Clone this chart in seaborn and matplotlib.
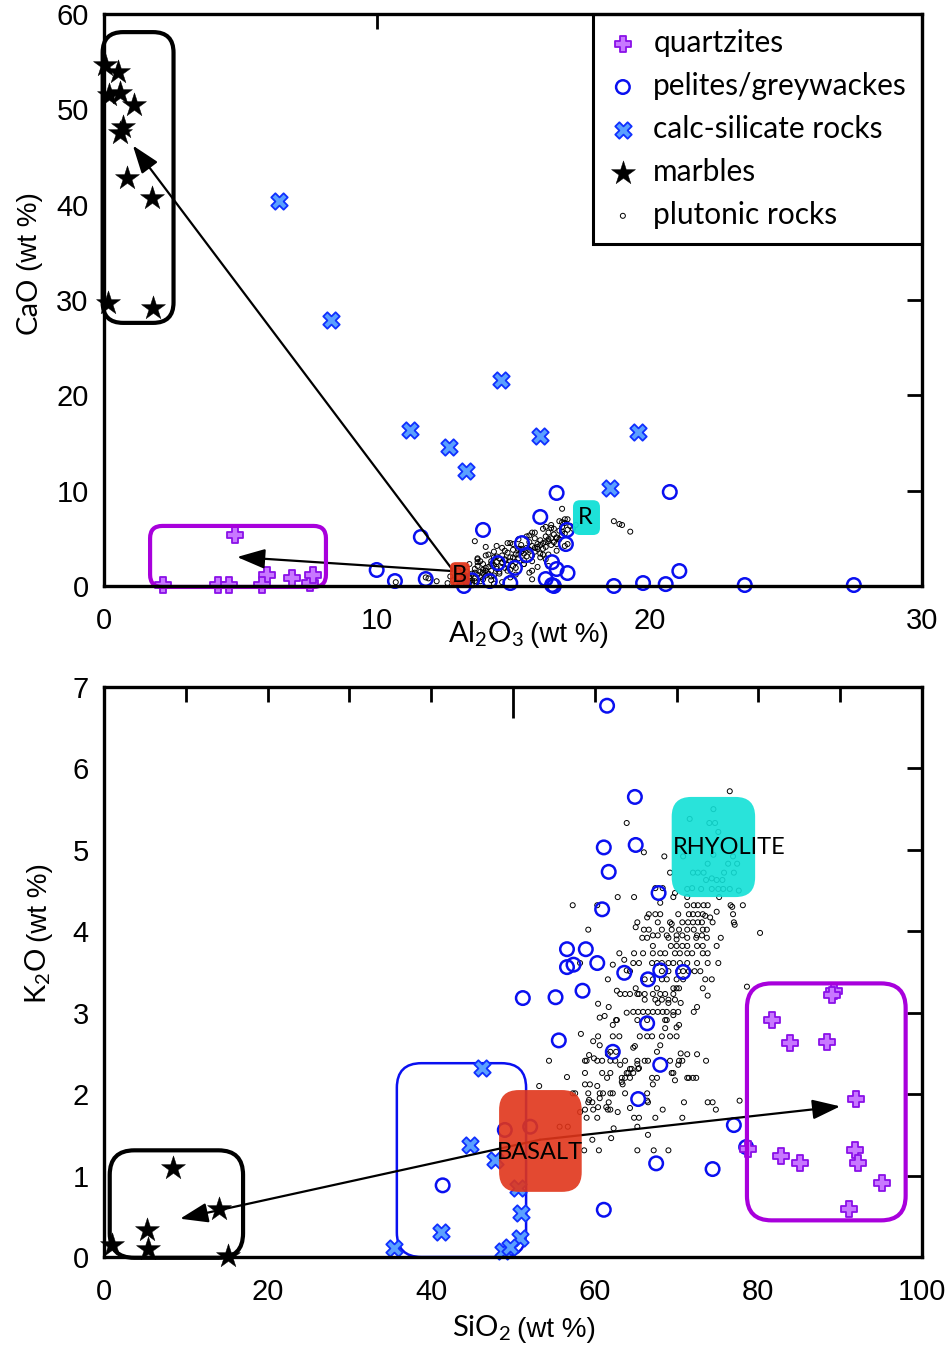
import matplotlib
matplotlib.use("Agg")
import matplotlib.pyplot as plt
import seaborn as sns
import pandas as pd
from matplotlib.patches import FancyBboxPatch

sns.set_style("white")
plt.rcParams['font.family'] = ['Liberation Sans Narrow', 'Liberation Sans', 'DejaVu Sans']
plt.rcParams['mathtext.fontset'] = 'custom'
plt.rcParams['mathtext.rm'] = 'Lato'
plt.rcParams['mathtext.it'] = 'Lato:italic'
plt.rcParams['text.color'] = 'black'
plt.rcParams['axes.labelcolor'] = 'black'
plt.rcParams['xtick.color'] = 'black'
plt.rcParams['ytick.color'] = 'black'

LBL = ['Lato', 'DejaVu Sans']
NARROW = ['Liberation Sans Narrow', 'Liberation Sans', 'DejaVu Sans']

# ---------------- TOP PANEL DATA (Al2O3 vs CaO) ----------------
marb_al = [0.04, 0.5, 0.2, 0.6, 1.1, 0.7, 0.6, 0.85, 1.75, 0.15, 1.8]
marb_ca = [54.7, 53.9, 51.5, 51.7, 50.5, 48.1, 47.5, 42.8, 40.7, 29.7, 29.2]

qtz_al = [4.8, 2.16, 4.18, 4.6, 5.98, 5.8, 6.9, 7.55, 7.66]
qtz_ca = [5.35, 0.1, 0.1, 0.1, 1.15, 0.1, 0.8, 0.3, 1.15]

calc_al = [6.42, 8.32, 14.56, 11.22, 12.65, 13.27, 15.99, 19.58, 18.55]
calc_ca = [40.4, 27.9, 21.6, 16.4, 14.6, 12.07, 15.7, 16.2, 10.3]

pel_al = [16.6, 20.75, 16.0, 13.9, 11.62, 16.98, 16.94, 15.33, 15.5, 14.45, 15.07, 16.43,
          16.6, 17.0, 10.0, 10.67, 11.8, 14.15, 14.9, 16.2, 16.43, 16.5, 13.2, 13.5,
          18.7, 19.77, 20.6, 21.1, 23.5, 27.5]
pel_ca = [9.76, 9.86, 7.24, 5.88, 5.14, 5.88, 4.4, 4.5, 3.25, 2.4, 1.9, 2.5,
          1.78, 1.36, 1.68, 0.52, 0.73, 0.52, 0.31, 0.73, 0.1, 0.0, 0.0, 0.6,
          0.0, 0.31, 0.2, 1.57, 0.1, 0.1]

plut_al = [12.9, 13.0, 13.1, 13.2, 13.3, 13.3, 13.4, 13.4, 13.5, 13.5,
           13.6, 13.6, 13.7, 13.7, 13.8, 13.8, 13.9, 13.9, 14.0, 14.0,
           14.1, 14.1, 14.2, 14.2, 14.3, 14.3, 14.4, 14.4, 14.5, 14.5,
           14.6, 14.6, 14.7, 14.7, 14.8, 14.8, 14.9, 14.9, 15.0, 15.0,
           15.1, 15.1, 15.2, 15.2, 15.3, 15.3, 15.4, 15.4, 15.5, 15.5,
           15.6, 15.6, 15.7, 15.7, 15.8, 15.8, 15.9, 15.9, 16.0, 16.0,
           16.1, 16.1, 16.2, 16.2, 16.3, 16.3, 16.4, 16.4, 16.5, 16.5,
           16.6, 16.6, 16.7, 16.7, 16.8, 16.8, 16.9, 16.9, 17.0, 17.1,
           13.2, 13.6, 13.9, 14.2, 14.4, 14.7, 15.0, 15.2, 15.5, 15.8,
           16.0, 16.3, 16.6, 16.8, 17.2, 17.3, 13.4, 14.0, 14.6, 15.3,
           11.8, 12.2, 11.9, 10.7, 13.6, 14.0, 14.8, 14.4, 15.7, 16.2,
           16.4, 13.7, 13.7, 16.8, 16.9, 18.7, 18.9, 19.0, 19.3, 15.7,
           15.7, 14.6, 12.6, 13.0, 13.3, 13.8, 14.3, 14.9, 15.4, 16.1,
           13.1, 13.4, 13.7, 14.0, 14.3, 14.6, 14.9, 15.2, 15.5, 15.8,
           16.1, 16.4, 16.7, 17.0, 13.3, 13.6, 13.9, 14.2, 14.5, 14.8,
           15.1, 15.4, 15.7, 16.0, 16.3, 16.6, 16.9, 13.8, 14.1, 14.4,
           14.7, 15.0, 15.3, 15.6, 15.9, 16.2, 16.5, 16.8, 12.8, 12.7,
           13.1, 13.5, 14.2, 14.9, 15.6, 16.3, 17.0, 15.9, 16.2, 15.1, 14.3]
plut_ca = [0.3, 0.9, 0.5, 1.2, 0.7, 1.5, 0.4, 1.0, 1.3, 0.6,
           1.8, 0.8, 1.2, 2.1, 1.5, 0.9, 2.3, 1.4, 1.9, 1.1,
           2.0, 1.3, 2.6, 1.6, 2.2, 3.0, 1.8, 2.5, 2.9, 1.5,
           2.4, 3.2, 1.9, 2.8, 3.5, 2.2, 3.0, 2.6, 3.8, 2.1,
           3.3, 2.5, 3.9, 2.9, 3.6, 4.3, 2.7, 3.4, 4.0, 3.1,
           3.8, 4.6, 3.2, 4.2, 5.0, 3.6, 4.4, 3.9, 4.8, 3.4,
           4.5, 3.9, 5.2, 4.1, 4.7, 5.6, 4.3, 5.0, 5.4, 4.6,
           5.1, 4.4, 5.8, 4.9, 6.2, 5.3, 5.5, 6.6, 5.9, 6.3,
           1.0, 1.4, 1.7, 2.3, 2.0, 2.7, 3.0, 3.3, 3.7, 4.0,
           4.3, 4.9, 5.0, 5.7, 6.0, 6.4, 0.8, 1.6, 2.5, 3.6,
           0.9, 0.5, 0.8, 0.4, 4.7, 4.1, 4.5, 4.2, 5.6, 6.2,
           6.1, 2.9, 2.5, 8.1, 7.0, 6.8, 6.5, 6.4, 5.7, 1.6,
           0.7, 0.4, 0.3, 1.6, 0.2, 0.5, 1.1, 1.7, 2.3, 3.3,
           1.9, 2.3, 2.8, 3.2, 3.6, 4.0, 4.5, 4.9, 5.2, 5.6,
           6.0, 6.4, 6.8, 7.0, 0.2, 0.5, 0.7, 1.0, 1.3, 1.6,
           1.9, 2.3, 2.6, 3.0, 3.3, 3.7, 4.2, 2.6, 3.3, 3.1,
           3.7, 4.4, 3.9, 5.3, 4.1, 4.6, 6.0, 6.7, 0.6, 1.0,
           0.15, 0.3, 0.6, 0.9, 1.4, 2.1, 4.4, 2.0, 2.8, 1.2, 0.25]

# ---------------- BOTTOM PANEL DATA (SiO2 vs K2O) ----------------
marb_si = [8.4, 14.1, 5.3, 5.4, 15.2, 1.0]
marb_k = [1.09, 0.59, 0.33, 0.10, 0.01, 0.15]

qtz_si = [89.2, 89.0, 81.7, 83.9, 88.4, 91.9, 78.7, 82.8, 85.1, 91.8, 92.2, 95.1, 91.1]
qtz_k = [3.27, 3.22, 2.91, 2.63, 2.64, 1.94, 1.33, 1.24, 1.15, 1.31, 1.15, 0.91, 0.59]

calc_si = [46.2, 44.7, 47.8, 50.6, 51.0, 50.8, 41.2, 35.5, 48.8, 49.6]
calc_k = [2.32, 1.37, 1.19, 0.85, 0.54, 0.23, 0.31, 0.11, 0.07, 0.12]

pel_si = [61.5, 64.9, 61.1, 65.0, 61.7, 67.8, 60.9, 56.6, 58.9, 60.3, 56.6, 57.4,
          63.6, 66.5, 68.0, 70.8, 51.2, 55.2, 58.5, 66.4, 55.6, 62.2, 68.0, 65.3,
          77.0, 78.5, 61.1, 67.5, 74.4, 49.0, 52.1, 41.4]
pel_k = [6.77, 5.65, 5.03, 5.06, 4.73, 4.47, 4.27, 3.78, 3.78, 3.61, 3.56, 3.59,
         3.49, 3.41, 3.52, 3.50, 3.18, 3.19, 3.27, 2.87, 2.66, 2.52, 2.36, 1.94,
         1.62, 1.35, 0.58, 1.15, 1.08, 1.56, 1.60, 0.88]

plut_si = [76.5, 74.5, 71.6, 74.0, 74.7, 75.1, 63.9, 66.0, 68.5, 70.8, 74.5, 76.9,
           73.8, 76.3, 77.4, 69.2, 72.0, 72.6, 73.3, 75.8, 77.0, 73.6, 74.3, 74.9,
           75.6, 71.3, 71.9, 73.0, 74.3, 75.1, 75.7, 76.5, 77.6, 67.4, 68.3, 69.6,
           69.8, 62.8, 64.8, 71.3, 75.2, 68.0, 57.3, 60.3, 71.3, 72.1, 72.6, 73.3,
           73.8, 76.6, 76.8, 78.1, 74.9, 66.6, 67.4, 68.0, 70.2, 71.5, 72.0, 72.6,
           73.2, 73.5, 76.9, 66.4, 74.1, 65.2, 67.7, 69.2, 69.4, 70.7, 71.4, 72.0,
           72.6, 73.1, 74.4, 77.0, 77.1, 65.0, 80.2, 59.2, 66.0, 66.6, 68.2, 69.4,
           70.3, 71.3, 72.1, 73.2, 73.7, 67.1, 67.7, 68.8, 70.0, 70.7, 72.5, 73.1,
           75.4, 65.8, 66.4, 69.0, 70.0, 71.3, 72.4, 73.7, 67.1, 69.3, 70.0, 70.7,
           71.3, 72.5, 73.2, 74.9, 63.0, 64.8, 65.9, 67.1, 68.0, 68.6, 69.8, 70.4,
           71.3, 71.9, 73.2, 73.8, 63.6, 64.7, 65.4, 67.0, 67.6, 68.2, 69.0, 69.6,
           70.4, 71.3, 72.5, 73.8, 75.1, 62.2, 58.2, 61.6, 63.9, 64.3, 68.2, 69.0,
           70.2, 70.8, 71.5, 72.2, 72.9, 66.1, 67.1, 68.2, 68.8, 70.0, 70.8, 73.5,
           74.3, 65.0, 67.6, 69.6, 70.0, 70.3, 73.2, 78.6, 62.7, 63.1, 63.7, 64.3,
           65.2, 65.4, 66.1, 67.1, 68.0, 68.6, 69.6, 73.8, 66.1, 67.4, 68.2, 69.0,
           69.8, 60.4, 61.7, 67.7, 69.0, 70.5, 72.5, 64.7, 65.3, 65.9, 66.5, 67.1,
           67.7, 68.3, 68.8, 69.6, 70.2, 72.1, 61.2, 60.6, 63.9, 69.6, 62.6, 62.7,
           65.2, 66.4, 68.6, 68.8, 62.2, 70.0, 70.3, 68.6, 58.3, 60.4, 62.2, 63.0,
           65.5, 66.4, 67.0, 68.2, 69.2, 70.0, 59.8, 60.6, 64.9, 68.0, 61.9, 61.6,
           62.6, 64.7, 67.6, 70.5, 71.3, 72.5, 59.3, 59.9, 54.4, 58.8, 59.0, 60.3,
           60.9, 61.9, 62.5, 63.7, 65.2, 66.1, 66.5, 69.2, 70.3, 70.7, 73.6, 63.1,
           65.2, 65.4, 70.2, 64.3, 64.5, 65.3, 56.6, 58.8, 60.9, 61.9, 63.9, 64.1,
           64.7, 69.4, 69.6, 61.5, 63.3, 63.7, 64.3, 67.0, 67.6, 71.3, 71.5, 72.0,
           72.4, 69.8, 58.8, 59.4, 60.3, 63.4, 67.1, 53.2, 63.3, 57.6, 57.3, 59.2,
           60.6, 61.0, 61.9, 62.2, 63.7, 66.4, 59.2, 59.3, 59.7, 60.6, 61.7, 64.3,
           66.4, 66.5, 70.9, 73.8, 74.4, 61.4, 61.6, 61.9, 58.8, 59.8, 60.4, 62.8,
           68.3, 74.8, 59.0, 60.3, 64.8, 65.4, 67.4, 70.7, 62.3, 65.2, 59.7, 62.0,
           66.5, 60.5, 65.2, 67.2, 69.0, 55.7, 56.7, 58.7, 77.7, 58.2]
plut_k = [5.72, 5.50, 5.38, 5.33, 5.33, 5.22, 5.33, 4.97, 4.92, 4.92, 4.94, 4.92,
          4.83, 4.83, 4.83, 4.72, 4.72, 4.72, 4.72, 4.72, 4.72, 4.63, 4.65, 4.63,
          4.63, 4.52, 4.53, 4.52, 4.52, 4.52, 4.52, 4.52, 4.50, 4.53, 4.53, 4.42,
          4.47, 4.42, 4.42, 4.42, 4.42, 4.35, 4.32, 4.32, 4.32, 4.32, 4.32, 4.32,
          4.32, 4.32, 4.30, 4.32, 4.24, 4.21, 4.21, 4.21, 4.21, 4.21, 4.21, 4.21,
          4.21, 4.19, 4.21, 4.17, 4.17, 4.11, 4.11, 4.11, 4.09, 4.11, 4.11, 4.11,
          4.11, 4.11, 4.11, 4.11, 4.08, 4.05, 3.98, 4.02, 4.02, 4.02, 4.02, 4.02,
          4.02, 4.02, 4.02, 4.02, 4.02, 3.95, 3.95, 3.95, 3.95, 3.95, 3.95, 3.95,
          3.92, 3.92, 3.92, 3.92, 3.90, 3.92, 3.92, 3.92, 3.82, 3.82, 3.82, 3.82,
          3.82, 3.82, 3.82, 3.82, 3.73, 3.73, 3.73, 3.73, 3.73, 3.73, 3.73, 3.73,
          3.73, 3.73, 3.73, 3.73, 3.65, 3.61, 3.61, 3.61, 3.61, 3.61, 3.61, 3.61,
          3.61, 3.61, 3.61, 3.61, 3.61, 3.59, 3.61, 3.41, 3.52, 3.51, 3.51, 3.51,
          3.51, 3.51, 3.51, 3.51, 3.51, 3.41, 3.41, 3.41, 3.41, 3.41, 3.41, 3.41,
          3.41, 3.30, 3.30, 3.30, 3.30, 3.30, 3.30, 3.32, 3.27, 3.23, 3.23, 3.23,
          3.23, 3.23, 3.23, 3.23, 3.23, 3.23, 3.23, 3.21, 3.16, 3.16, 3.16, 3.16,
          3.16, 3.11, 3.07, 3.12, 3.12, 3.12, 3.07, 3.01, 3.01, 3.01, 3.01, 3.01,
          3.01, 3.01, 3.01, 3.01, 3.01, 3.01, 2.96, 2.94, 3.00, 2.97, 2.91, 2.91,
          2.91, 2.91, 2.91, 2.91, 2.85, 2.82, 2.85, 2.81, 2.74, 2.71, 2.71, 2.71,
          2.71, 2.71, 2.71, 2.71, 2.71, 2.71, 2.65, 2.60, 2.59, 2.60, 2.52, 2.49,
          2.52, 2.57, 2.52, 2.50, 2.49, 2.49, 2.48, 2.44, 2.41, 2.41, 2.41, 2.41,
          2.41, 2.41, 2.41, 2.41, 2.41, 2.41, 2.41, 2.41, 2.41, 2.41, 2.41, 2.36,
          2.37, 2.32, 2.36, 2.31, 2.31, 2.31, 2.21, 2.26, 2.26, 2.26, 2.26, 2.26,
          2.26, 2.26, 2.26, 2.20, 2.20, 2.20, 2.20, 2.20, 2.20, 2.20, 2.20, 2.20,
          2.20, 2.17, 2.12, 2.12, 2.10, 2.12, 2.12, 2.10, 2.15, 2.01, 2.01, 2.01,
          2.01, 2.01, 2.01, 2.01, 2.01, 2.01, 1.90, 1.93, 1.90, 1.95, 1.90, 1.83,
          1.92, 1.90, 1.90, 1.90, 1.90, 1.84, 1.81, 1.81, 1.81, 1.81, 1.84, 1.78,
          1.81, 1.81, 1.71, 1.71, 1.71, 1.71, 1.71, 1.71, 1.58, 1.60, 1.44, 1.46,
          1.50, 1.31, 1.31, 1.31, 1.31, 1.60, 1.60, 1.31, 1.92, 1.78]

legend_labels = ['quartzites', 'pelites/greywackes', 'calc-silicate rocks', 'marbles', 'plutonic rocks']

# ---------------- STYLES ----------------
PURPLE_FILL = '#c878ff'
PURPLE_EDGE = '#8a10e8'
BOX_PURPLE = '#a800dc'
BLUE = '#0a10f0'
X_FILL = '#5aa0ff'
X_EDGE = '#1030ff'
RED = '#e0351a'
CYAN = '#12e0d6'

fig = plt.figure(figsize=(9.53, 13.46), dpi=100)
ax1 = fig.add_axes([104 / 953, 1 - 586 / 1346, 818 / 953, 572 / 1346])
ax2 = fig.add_axes([104 / 953, 1 - 1257 / 1346, 818 / 953, 570 / 1346])


def scat(ax, x, y, kind, label=None):
    df = pd.DataFrame({'x': x, 'y': y})
    if kind == 'qtz':
        sns.scatterplot(data=df, x='x', y='y', ax=ax, marker='P', s=130, color=PURPLE_FILL,
                        edgecolor=PURPLE_EDGE, linewidth=1.3, label=label, zorder=5, clip_on=False)
    elif kind == 'pel':
        sns.scatterplot(data=df, x='x', y='y', ax=ax, marker='o', s=95, color=BLUE,
                        linewidth=1.8, label=label, zorder=4, clip_on=False)
        c = ax.collections[-1]
        c.set_facecolor('none')
        c.set_edgecolor(BLUE)
    elif kind == 'calc':
        sns.scatterplot(data=df, x='x', y='y', ax=ax, marker='X', s=140, color=X_FILL,
                        edgecolor=X_EDGE, linewidth=1.3, label=label, zorder=5, clip_on=False)
    elif kind == 'marb':
        sns.scatterplot(data=df, x='x', y='y', ax=ax, marker='*', s=330, color='black',
                        edgecolor='black', linewidth=0.3, label=label, zorder=5, clip_on=False)
    elif kind == 'plut':
        sns.scatterplot(data=df, x='x', y='y', ax=ax, marker='o', s=13, color='black',
                        linewidth=0.7, label=label, zorder=3, clip_on=False)
        c = ax.collections[-1]
        c.set_facecolor('none')
        c.set_edgecolor('black')


def rbox(ax, x0, x1, y0, y1, r, aspect, **kw):
    p = FancyBboxPatch((x0, y0), x1 - x0, y1 - y0,
                       boxstyle="round,pad=0,rounding_size=%f" % r,
                       mutation_aspect=aspect, clip_on=False, **kw)
    ax.add_patch(p)
    return p


def arrow(ax, start, end):
    ax.annotate('', xy=end, xytext=start,
                arrowprops=dict(arrowstyle='-|>,head_length=0.9,head_width=0.32', color='black',
                                lw=1.6, shrinkA=0, shrinkB=0, mutation_scale=19),
                zorder=6, annotation_clip=False)


# ---------------- TOP PANEL ----------------
asp1 = (60 / 572) / (30 / 818)
scat(ax1, plut_al, plut_ca, 'plut')
scat(ax1, qtz_al, qtz_ca, 'qtz', legend_labels[0])
scat(ax1, pel_al, pel_ca, 'pel', legend_labels[1])
scat(ax1, calc_al, calc_ca, 'calc', legend_labels[2])
scat(ax1, marb_al, marb_ca, 'marb', legend_labels[3])
h_plut = ax1.scatter([], [], marker='o', s=13, facecolors='none', edgecolors='black', linewidths=0.7)

rbox(ax1, -0.05, 2.55, 27.6, 58.1, 0.75, asp1, fill=False, ec='black', lw=3, zorder=7)
rbox(ax1, 1.69, 8.14, -0.1, 6.3, 0.45, asp1, fill=False, ec=BOX_PURPLE, lw=3, zorder=7)
arrow(ax1, (12.76, 1.78), (1.06, 46.2))
arrow(ax1, (12.76, 1.57), (4.88, 3.04))
rbox(ax1, 12.69, 13.42, -0.1, 2.5, 0.2, asp1, fc=RED, ec='none', alpha=0.95, zorder=8)
ax1.text(13.05, 1.15, 'B', ha='center', va='center', fontsize=17, family=LBL, zorder=9)
rbox(ax1, 17.2, 18.19, 5.35, 9.0, 0.25, asp1, fc=CYAN, ec='none', alpha=0.95, zorder=8)
ax1.text(17.66, 7.2, 'R', ha='center', va='center', fontsize=17, family=LBL, zorder=9)

ax1.set_xlim(0, 30)
ax1.set_ylim(0, 60)
ax1.set_xticks([0, 10, 20, 30])
ax1.set_yticks([0, 10, 20, 30, 40, 50, 60])

handles, labels = ax1.get_legend_handles_labels()
handles = handles[:4] + [h_plut]
leg = ax1.legend(handles, legend_labels, loc='upper right', bbox_to_anchor=(1.0, 1.0),
                 borderaxespad=0, frameon=True, fancybox=False, framealpha=1,
                 edgecolor='black', prop={'family': LBL, 'size': 21.5},
                 handlelength=1.0, handletextpad=0.52, labelspacing=0.5,
                 borderpad=0.5, scatterpoints=1)
leg.get_frame().set_linewidth(2.2)
leg.set_zorder(10)

# ---------------- BOTTOM PANEL ----------------
asp2 = (7 / 570) / (100 / 818)
scat(ax2, plut_si, plut_k, 'plut')
scat(ax2, qtz_si, qtz_k, 'qtz')
scat(ax2, pel_si, pel_k, 'pel')
scat(ax2, calc_si, calc_k, 'calc')
scat(ax2, marb_si, marb_k, 'marb')

rbox(ax2, 0.7, 17.0, -0.01, 1.31, 3.0, asp2, fill=False, ec='black', lw=3, zorder=7)
rbox(ax2, 35.8, 51.6, 0.0, 2.38, 3.0, asp2, fill=False, ec=BLUE, lw=1.8, zorder=2)
rbox(ax2, 78.6, 98.0, 0.45, 3.36, 3.0, asp2, fill=False, ec=BOX_PURPLE, lw=3, zorder=7)
arrow(ax2, (53.3, 1.44), (9.3, 0.47))
arrow(ax2, (53.3, 1.44), (90.0, 1.85))
rbox(ax2, 48.3, 58.4, 0.80, 2.05, 2.4, asp2, fc=RED, ec='none', alpha=0.9, zorder=8)
ax2.text(53.3, 1.28, 'BASALT', ha='center', va='center', fontsize=17, family=LBL, zorder=9)
rbox(ax2, 69.4, 79.6, 4.42, 5.65, 2.4, asp2, fc=CYAN, ec='none', alpha=0.9, zorder=8)
ax2.text(76.4, 5.03, 'RHYOLITE', ha='center', va='center', fontsize=17, family=LBL, zorder=9)

ax2.set_xlim(0, 100)
ax2.set_ylim(0, 7)
ax2.set_xticks(list(range(0, 101, 10)))
ax2.set_xticklabels([str(v) if v % 20 == 0 else '' for v in range(0, 101, 10)])
ax2.set_yticks(list(range(0, 8)))

# ---------------- AXES STYLE ----------------
for ax in (ax1, ax2):
    ax.set_xlabel('')
    ax.set_ylabel('')
    for sp in ax.spines.values():
        sp.set_linewidth(2.4)
        sp.set_color('black')
        sp.set_zorder(11)
    ax.tick_params(axis='both', direction='in', length=11, width=2.0, top=True, right=True,
                   labelsize=21, colors='black')
    ax.tick_params(axis='x', pad=15)
    ax.tick_params(axis='y', pad=11)

for t, v in zip(ax2.xaxis.get_major_ticks(), range(0, 101, 10)):
    if v == 50:
        t.tick1line.set_markersize(22)
        t.tick2line.set_markersize(22)
for t, v in zip(ax1.yaxis.get_major_ticks(), [0, 10, 20, 30, 40, 50, 60]):
    if v == 50:
        t.tick1line.set_markersize(18)
        t.tick2line.set_markersize(18)

# axis labels (two-part: formula + units)
ax1.text(0.513, -0.098, r'Al$_2$O$_3$', transform=ax1.transAxes, ha='right', va='baseline',
         fontsize=21, family=LBL)
ax1.text(0.521, -0.098, '(wt %)', transform=ax1.transAxes, ha='left', va='baseline',
         fontsize=20, family=NARROW)
ax2.text(0.497, -0.140, r'SiO$_2$', transform=ax2.transAxes, ha='right', va='baseline',
         fontsize=21, family=LBL)
ax2.text(0.505, -0.140, '(wt %)', transform=ax2.transAxes, ha='left', va='baseline',
         fontsize=20, family=NARROW)
ax1.text(-0.082, 0.540, 'CaO', transform=ax1.transAxes, ha='right', va='baseline',
         rotation=90, rotation_mode='anchor', fontsize=21, family=LBL)
ax1.text(-0.082, 0.550, '(wt %)', transform=ax1.transAxes, ha='left', va='baseline',
         rotation=90, rotation_mode='anchor', fontsize=20, family=NARROW)
ax2.text(-0.070, 0.542, r'K$_2$O', transform=ax2.transAxes, ha='right', va='baseline',
         rotation=90, rotation_mode='anchor', fontsize=21, family=LBL)
ax2.text(-0.070, 0.552, '(wt %)', transform=ax2.transAxes, ha='left', va='baseline',
         rotation=90, rotation_mode='anchor', fontsize=20, family=NARROW)

fig.savefig('out.png', dpi=100)
